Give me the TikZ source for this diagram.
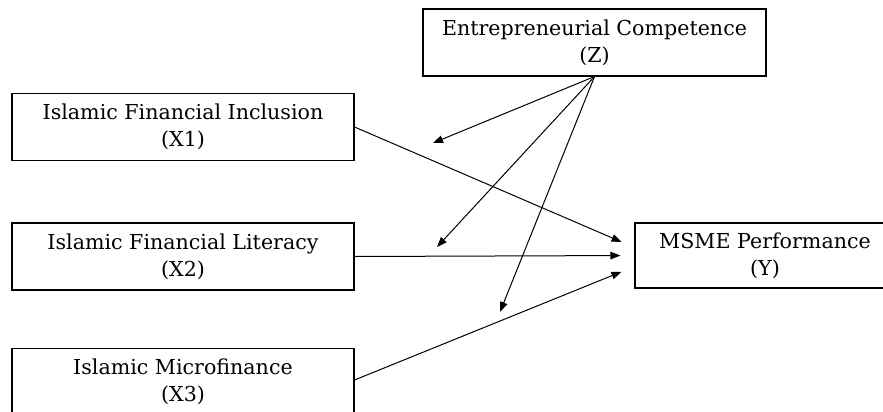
\documentclass[tikz,border=0pt]{standalone}
\usepackage{fontspec}
\setmainfont{DejaVu Serif}
\usetikzlibrary{arrows.meta}
\begin{document}
\begin{tikzpicture}[x=1pt,y=-1pt,
  varbox/.style={draw=black, line width=1.1pt, align=center, inner sep=0pt,
    minimum height=67pt, font=\fontsize{20.6}{27}\selectfont},
  link/.style={line width=1pt, draw=black,
    -{Triangle[length=10pt,width=7.5pt]}}]
\useasboundingbox (0,0) rectangle (883,412);
\clip (0,0) rectangle (883,412);

% constructs
\node[varbox, minimum width=343pt] (Z)  at (594.5,42.5) {Entrepreneurial Competence\\(Z)};
\node[varbox, minimum width=342pt] (X1) at (183,127)    {Islamic Financial Inclusion\\(X1)};
\node[varbox, minimum width=342pt] (X2) at (183,256.5)  {Islamic Financial Literacy\\(X2)};
\node[varbox, minimum width=342pt] (X3) at (183,382)    {Islamic Microfinance\\(X3)};
\node[varbox, minimum width=260pt, minimum height=65pt] (Y) at (765,255.5) {MSME Performance\\(Y)};

% direct effects on performance
\draw[link, shorten >=14pt] (X1.east) -- ([yshift=8pt]Y.west);
\draw[link, shorten >=14pt] (X2.east) -- (Y.west);
\draw[link, shorten >=14pt] ([yshift=2pt]X3.east) -- ([yshift=-11pt]Y.west);

% moderating effects of competence
\coordinate (m1) at (433,143);
\coordinate (m2) at (437,247);
\coordinate (m3) at (500,312);
\draw[link] (Z.south) -- (m1);
\draw[link] (Z.south) -- (m2);
\draw[link] (Z.south) -- (m3);
\end{tikzpicture}
\end{document}
